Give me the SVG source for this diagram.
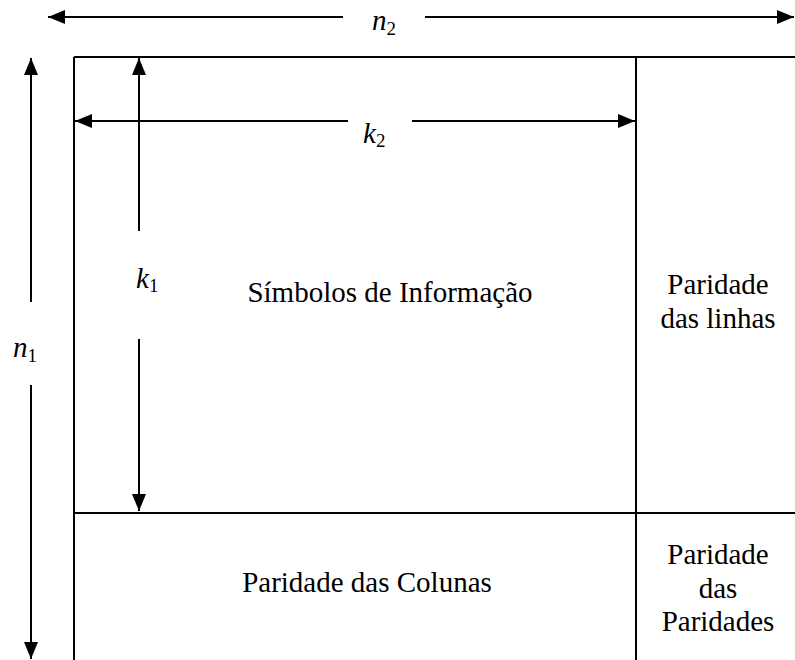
<svg xmlns="http://www.w3.org/2000/svg" width="795" height="660" viewBox="0 0 795 660">
<defs>
<style>
.ln{stroke:#000;stroke-width:2;fill:none}
.t{font-family:"Liberation Serif","Times New Roman",serif;font-size:29px;fill:#000}
.c{text-anchor:middle}
.i{font-style:italic}
.sub{font-size:19px;font-style:normal}
</style>
<marker id="ah" markerUnits="userSpaceOnUse" markerWidth="17" markerHeight="16" viewBox="0 0 17 16" refX="17" refY="8" orient="auto">
<path d="M0,1 L17,8 L0,15 Z" fill="#000"/>
</marker>
</defs>
<g id="matrix">
<line class="ln" x1="74" y1="57" x2="795" y2="57"/>
<line class="ln" x1="74" y1="57" x2="74" y2="660"/>
<line class="ln" x1="636" y1="57" x2="636" y2="660"/>
<line class="ln" x1="74" y1="513" x2="795" y2="513"/>
</g>
<g id="info">
<text class="t c" x="390" y="302">Símbolos de Informação</text>
</g>
<g id="rowparity">
<text class="t c" x="718" y="294">Paridade</text>
<text class="t c" x="718" y="328">das linhas</text>
</g>
<g id="colparity">
<text class="t c" x="367" y="592">Paridade das Colunas</text>
</g>
<g id="parityparity">
<text class="t c" x="718" y="564">Paridade</text>
<text class="t c" x="718" y="598">das</text>
<text class="t c" x="718" y="631">Paridades</text>
</g>
<g id="connectors">
<line class="ln" x1="343" y1="17" x2="48" y2="17" marker-end="url(#ah)"/>
<line class="ln" x1="425" y1="17" x2="794" y2="17" marker-end="url(#ah)"/>
<line class="ln" x1="31" y1="302" x2="31" y2="58" marker-end="url(#ah)"/>
<line class="ln" x1="31" y1="385" x2="31" y2="659" marker-end="url(#ah)"/>
<line class="ln" x1="139" y1="231" x2="139" y2="58" marker-end="url(#ah)"/>
<line class="ln" x1="139" y1="339" x2="139" y2="511" marker-end="url(#ah)"/>
<line class="ln" x1="348" y1="121" x2="75" y2="121" marker-end="url(#ah)"/>
<line class="ln" x1="412" y1="121" x2="635" y2="121" marker-end="url(#ah)"/>
</g>
<g id="labels">
<text class="t i" x="372" y="30">n<tspan class="sub" dy="5">2</tspan></text>
<text class="t i" x="363" y="143">k<tspan class="sub" dy="4">2</tspan></text>
<text class="t i" x="136" y="288">k<tspan class="sub" dy="4">1</tspan></text>
<text class="t i" x="13" y="357">n<tspan class="sub" dy="5">1</tspan></text>
</g>
</svg>
